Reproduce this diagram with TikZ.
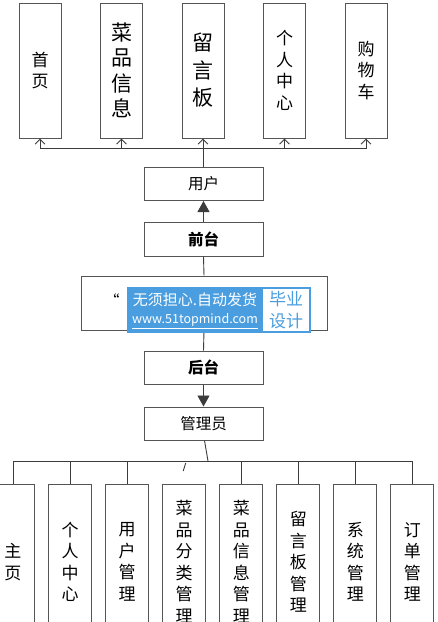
\documentclass[tikz,border=0pt]{standalone}
\usepackage{fontspec}
\newfontfamily\cjk{Noto Sans CJK SC}
\usetikzlibrary{arrows.meta}
\definecolor{boxgray}{RGB}{85,85,85}
\definecolor{linegray}{RGB}{60,60,60}
\definecolor{markblue}{RGB}{74,158,224}
\tikzset{
  vbox/.style={draw=boxgray, line width=1pt, minimum width=42pt, inner sep=0pt, align=center, font=\cjk\fontsize{17}{21.5}\selectfont},
  bigtext/.style={font=\cjk\fontsize{21}{25.5}\selectfont},
  hbox/.style={draw=boxgray, line width=1pt, minimum width=119pt, minimum height=33pt, inner sep=0pt, font=\cjk\fontsize{15.5}{18}\selectfont},
  link/.style={draw=linegray, line width=0.9pt},
  barb/.style={link, -{Straight Barb[length=5pt,width=10pt]}},
  tri/.style={link, -{Triangle[length=11pt,width=12pt]}},
}
\begin{document}
\begin{tikzpicture}[x=1pt,y=-1pt]
    \useasboundingbox (0,0) rectangle (438,622);
    \fill[white] (0,0) rectangle (438,622);
    \clip (0,0) rectangle (438,622);

    % front end pages
    \node[vbox, minimum height=135pt] (home) at (40,70.5) {首\\页};
    \node[vbox, bigtext, minimum height=135pt] (dishinfo) at (121.5,70.5) {菜\\品\\信\\息};
    \node[vbox, bigtext, font=\cjk\fontsize{21}{27.5}\selectfont, minimum height=135pt] (board) at (203,70.5) {留\\言\\板};
    \node[vbox, minimum height=135pt] (center) at (284.5,70.5) {个\\人\\中\\心};
    \node[vbox, minimum height=135pt] (cart) at (366,70.5) {购\\物\\车};

    \node[hbox] (user) at (203.5,184) {用户};
    \node[hbox, minimum height=34pt, font=\cjk\bfseries\fontsize{15.5}{18}\selectfont] (front) at (203.5,239) {前台};
    \node[draw=boxgray, line width=1pt, minimum width=246pt, minimum height=54pt] (sys) at (204,303) {};
    \node[font=\cjk\fontsize{15}{18}\selectfont] (quote) at (112,300) {“};
    \node[hbox, font=\cjk\bfseries\fontsize{15.5}{18}\selectfont] (back) at (203.5,367.5) {后台};
    \node[hbox] (admin) at (203.5,423.5) {管理员};

    \coordinate (ubus) at (203.5,148);
    \draw[link] (user.north) -- (ubus);
    \foreach \n in {home,dishinfo,board,center,cart}
        \draw[barb] (ubus) -| (\n.south);

    \draw[tri] (front.north) -- (user.south);
    \draw[link] (front.south) -- (sys.north);
    \draw[link] (sys.south) -- (back.north);
    \draw[tri] (back.south) -- (admin.north);

    % back end pages
    \foreach \t [count=\i from 0] in {主\\页,个\\人\\中\\心,用\\户\\管\\理,菜\\品\\分\\类\\管\\理,菜\\品\\信\\息\\管\\理,留\\言\\板\\管\\理,系\\统\\管\\理,订\\单\\管\\理}
        \node[vbox, minimum width=43pt, minimum height=156pt] (a\i) at (13+\i*57.07,562) {\t};

    \coordinate (abus) at (208,461);
    \draw[link] ([xshift=1pt]admin.south) -- (abus);
    \foreach \i in {0,1,2,4,5,6,7}
        \draw[link] (abus) -| (a\i.north);
    \draw[link] ([shift={(1.5,2)}]a3.north |- abus) -- ++(-2.5,8);

    % watermark
    \fill[markblue] (127,287) rectangle (311,333);
    \fill[white] (263,289) rectangle (309,331);
    \node[font=\cjk\fontsize{15}{18}\selectfont, text=white] (mark1) at (195,299.5) {无须担心.自动发货};
    \node[font=\cjk\fontsize{12.5}{16}\selectfont, text=white] (mark2) at (195,321) {\underline{www.51topmind.com}};
    \node[font=\cjk\fontsize{17}{22}\selectfont, text=markblue, align=center] (mark3) at (286,310) {毕业\\设计};
\end{tikzpicture}
\end{document}
